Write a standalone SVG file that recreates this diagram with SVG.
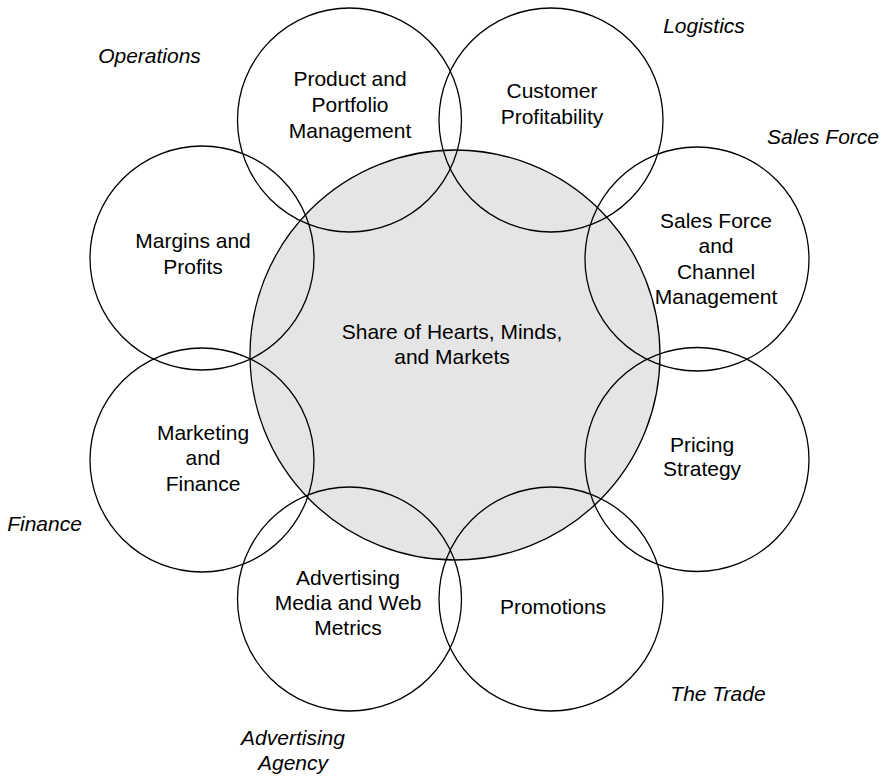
<svg xmlns="http://www.w3.org/2000/svg" width="884" height="777" viewBox="0 0 884 777">
<style>
.c{fill:none;stroke:#000;stroke-width:1.3}
.core{fill:#e5e5e5;stroke:#000;stroke-width:1.3}
text{font-family:"Liberation Sans",Arial,Helvetica,sans-serif;font-size:21px;fill:#000;text-anchor:middle}
.i{font-style:italic}
</style>
<rect width="884" height="777" fill="#fff"/>
<g id="core">
<circle class="core" cx="455" cy="355" r="205"/>
<text x="452" y="339">Share of Hearts, Minds,</text>
<text x="452" y="364">and Markets</text>
</g>
<g id="product">
<circle class="c" cx="349.5" cy="120" r="112"/>
<text x="350" y="86">Product and</text>
<text x="350" y="112">Portfolio</text>
<text x="350" y="138">Management</text>
</g>
<g id="customer">
<circle class="c" cx="551" cy="120" r="112"/>
<text x="552" y="98">Customer</text>
<text x="552" y="124">Profitability</text>
</g>
<g id="salesforce">
<circle class="c" cx="697" cy="259" r="112"/>
<text x="716" y="228">Sales Force</text>
<text x="716" y="253">and</text>
<text x="716" y="279">Channel</text>
<text x="716" y="304">Management</text>
</g>
<g id="pricing">
<circle class="c" cx="697" cy="459.5" r="112"/>
<text x="702" y="452">Pricing</text>
<text x="702" y="476">Strategy</text>
</g>
<g id="promotions">
<circle class="c" cx="551" cy="599" r="112"/>
<text x="553" y="614">Promotions</text>
</g>
<g id="advertising">
<circle class="c" cx="349.5" cy="599" r="112"/>
<text x="348" y="585">Advertising</text>
<text x="348" y="610">Media and Web</text>
<text x="348" y="635">Metrics</text>
</g>
<g id="marketing">
<circle class="c" cx="202" cy="460" r="112"/>
<text x="203" y="440">Marketing</text>
<text x="203" y="465">and</text>
<text x="203" y="491">Finance</text>
</g>
<g id="margins">
<circle class="c" cx="202" cy="258" r="112"/>
<text x="193" y="248">Margins and</text>
<text x="193" y="274">Profits</text>
</g>
<g id="labels">
<text class="i" x="149.5" y="63">Operations</text>
<text class="i" x="704" y="33">Logistics</text>
<text class="i" x="823" y="144">Sales Force</text>
<text class="i" x="44.5" y="531">Finance</text>
<text class="i" x="718" y="701">The Trade</text>
<text class="i" x="293" y="745">Advertising</text>
<text class="i" x="293" y="770">Agency</text>
</g>
<g id="connectors"></g>
</svg>
